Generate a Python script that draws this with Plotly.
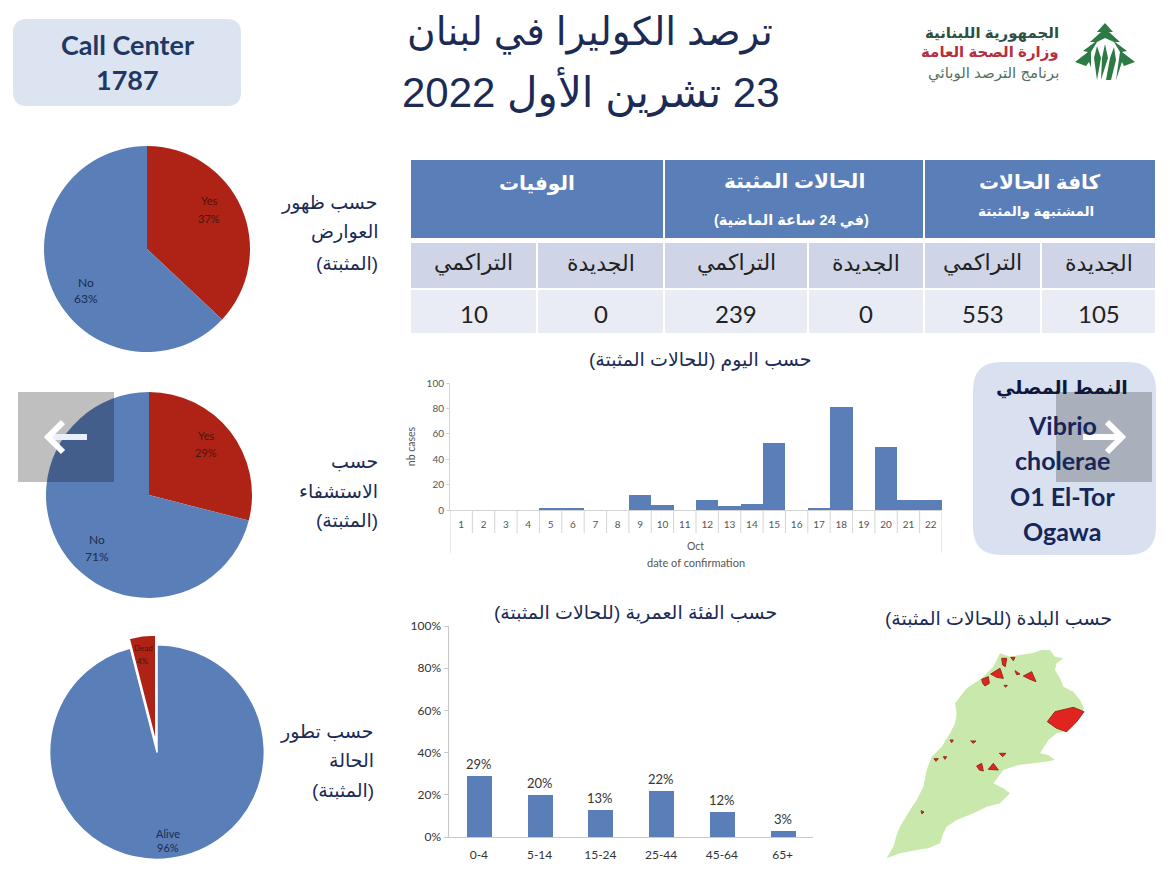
import plotly.graph_objects as go

W, H = 1170, 869

# ---- data ----
pie_symptoms_labels = ["Yes", "No"]
pie_symptoms_values = [37, 63]
pie_hospital_labels = ["Yes", "No"]
pie_hospital_values = [29, 71]
pie_outcome_labels = ["Alive", "Dead"]
pie_outcome_values = [96, 4]

days = list(range(1, 23))
daily_cases = [0, 0, 0, 0, 1, 1, 0, 0, 12, 4, 0, 8, 3, 5, 53, 0, 1, 81, 0, 50, 8, 8]

age_groups = ["0-4", "5-14", "15-24", "25-44", "45-64", "65+"]
age_shares = [29, 20, 13, 22, 12, 3]

table_groups = ["كافة الحالات", "الحالات المثبتة", "الوفيات"]
table_columns = ["الجديدة", "التراكمي", "الجديدة", "التراكمي", "الجديدة", "التراكمي"]
table_values = [105, 553, 0, 239, 0, 10]

BLUE = "#5a7eb8"
RED = "#ae2315"
NAVY = "#1c2b55"
AR = "Liberation Sans, DejaVu Sans, sans-serif"
LAT = "Lato, Open Sans, sans-serif"


def fx(x):
    return x / W


def fy(y):
    return 1 - y / H


def rtl(s):
    return "\u202b" + s + "\u202c"


shapes, annos = [], []


def text(x, y, s, size, color=NAVY, family=AR, anchor="center", bold=False, angle=0):
    t = f"<b>{s}</b>" if bold else s
    annos.append(dict(x=fx(x), y=fy(y), xref="paper", yref="paper", text=t, showarrow=False,
                      xanchor=anchor, yanchor="middle", textangle=angle,
                      font=dict(size=size, color=color, family=family)))


def rect(x0, y0, x1, y1, color):
    shapes.append(dict(type="rect", xref="paper", yref="paper", x0=fx(x0), x1=fx(x1),
                       y0=fy(y1), y1=fy(y0), fillcolor=color, line=dict(width=0), layer="below"))


def poly(pts, color, line=None, lw=0, layer="above", closed=True):
    d = "M " + " L ".join(f"{fx(x):.5f} {fy(y):.5f}" for x, y in pts) + (" Z" if closed else "")
    shapes.append(dict(type="path", xref="paper", yref="paper", path=d,
                       fillcolor=color if closed else None,
                       line=dict(width=lw, color=line or color), layer=layer))


def rounded(x0, y0, x1, y1, r, color):
    d = (f"M {fx(x0+r)} {fy(y0)} L {fx(x1-r)} {fy(y0)} Q {fx(x1)} {fy(y0)} {fx(x1)} {fy(y0+r)} "
         f"L {fx(x1)} {fy(y1-r)} Q {fx(x1)} {fy(y1)} {fx(x1-r)} {fy(y1)} "
         f"L {fx(x0+r)} {fy(y1)} Q {fx(x0)} {fy(y1)} {fx(x0)} {fy(y1-r)} "
         f"L {fx(x0)} {fy(y0+r)} Q {fx(x0)} {fy(y0)} {fx(x0+r)} {fy(y0)} Z")
    shapes.append(dict(type="path", xref="paper", yref="paper", path=d, fillcolor=color,
                       line=dict(width=0), layer="below"))


# ---- figure ----
fig = go.Figure()


def add_pie(labels, values, cx, cy, r, pull=None, line=None):
    fig.add_trace(go.Pie(labels=labels, values=values, sort=False, direction="clockwise", rotation=0,
                         domain=dict(x=[fx(cx - r), fx(cx + r)], y=[fy(cy + r), fy(cy - r)]),
                         marker=dict(colors=[RED if l in ("Yes", "Dead") else BLUE for l in labels],
                                     line=dict(width=line or 0, color="white")),
                         pull=pull or 0, textinfo="none", hoverinfo="label+percent", showlegend=False))


add_pie(pie_symptoms_labels, pie_symptoms_values, 147, 249, 103)
add_pie(pie_hospital_labels, pie_hospital_values, 149, 495, 103)
add_pie(pie_outcome_labels, pie_outcome_values, 157, 752, 117, pull=[0, 0.09], line=1.5)

fig.add_trace(go.Bar(x=days, y=daily_cases, marker=dict(color=BLUE, line=dict(width=0)), width=1.0,
                     xaxis="x", yaxis="y", showlegend=False))
fig.add_trace(go.Bar(x=age_groups, y=age_shares, marker=dict(color=BLUE, line=dict(width=0)), width=0.41,
                     xaxis="x2", yaxis="y2", showlegend=False))
for g, v in zip(age_groups, age_shares):
    annos.append(dict(x=g, y=v, xref="x2", yref="y2", text=f"{v}%", showarrow=False, yanchor="bottom", yshift=2,
                      font=dict(size=13, color="#333333", family=LAT)))

# ---- title ----
text(590, 33, "ترصد الكوليرا في لبنان", 39)
text(591, 91, rtl("23 تشرين الأول 2022"), 42)

# ---- call centre / serotype boxes ----
rounded(13, 19, 241, 106, 14, "#dde4f1")
text(127, 45, "Call Center", 27, "#1f3864", LAT, bold=True)
text(127, 80, "1787", 27, "#1f3864", LAT, bold=True)
rounded(973, 362, 1156, 555, 28, "#d9e1f0")
text(1062, 388, "النمط المصلي", 19, "#10183a", AR, bold=True)
for y, s in zip([425, 460, 496, 531], ["Vibrio", "cholerae", "O1 El-Tor", "Ogawa"]):
    text(1062, y, s, 25, "#16265a", LAT, bold=True)

# ---- table ----
group_spans = [(925, 1155), (665, 923), (411, 663)]
for (a, b) in group_spans:
    rect(a, 160, b, 238, BLUE)
col_spans = [(1042, 1155), (925, 1040), (809, 923), (665, 807), (538, 663), (411, 536)]
for (a, b), head, val in zip(col_spans, table_columns, table_values):
    rect(a, 243, b, 288, "#cfd5e6")
    rect(a, 290, b, 333, "#e9ecf5")
    text((a + b) / 2, 263, head, 22, "#222222")
    text((a + b) / 2, 313, str(val), 24, "#222222", LAT)
text(1040, 182, table_groups[0], 20, "white", bold=True)
text(1036, 211, "المشتبهة والمثبتة", 13.5, "white", bold=True)
text(794, 181, table_groups[1], 20, "white", bold=True)
text(791, 220, rtl("(في 24 ساعة الماضية)"), 14.5, "white", bold=True)
text(537, 183, table_groups[2], 20, "white", bold=True)

# ---- side captions ----
for y, s in zip([203, 232, 263], ["حسب ظهور", "العوارض", rtl("(المثبتة)")]):
    text(380, y, s, 19, anchor="right")
for y, s in zip([461, 491, 520], ["حسب", "الاستشفاء", rtl("(المثبتة)")]):
    text(380, y, s, 19, anchor="right")
for y, s in zip([732, 760, 790], ["حسب تطور", "الحالة", rtl("(المثبتة)")]):
    text(376, y, s, 19, anchor="right")

# ---- chart titles ----
text(700, 360, rtl("حسب اليوم (للحالات المثبتة)"), 19)
text(635, 613, rtl("حسب الفئة العمرية (للحالات المثبتة)"), 19)
text(998, 618, rtl("حسب البلدة (للحالات المثبتة)"), 19)

# ---- pie labels ----
DARKRED = "#4a1410"
DARKBLUE = "#1c2b4f"
for x, y, s, c, z in [
    (209, 201, "Yes", DARKRED, 11), (209, 218, "37%", DARKRED, 11),
    (86, 282, "No", DARKBLUE, 12), (86, 299, "63%", DARKBLUE, 12),
    (206, 435, "Yes", DARKRED, 11), (206, 452, "29%", DARKRED, 11),
    (97, 539, "No", DARKBLUE, 12), (97, 556, "71%", DARKBLUE, 12),
    (143, 648, "Dead", DARKRED, 8), (143, 661, "4%", DARKRED, 8),
    (168, 833, "Alive", DARKBLUE, 11), (168, 847, "96%", DARKBLUE, 11),
]:
    text(x, y, s, z, c, LAT)

# ---- daily chart furniture ----
for d in days + [days[-1] + 1]:
    long_tick = d in (days[0], days[-1] + 1)
    shapes.append(dict(type="line", xref="x", yref="paper", x0=d - 0.5, x1=d - 0.5,
                       y0=fy(553 if long_tick else 533), y1=fy(510),
                       line=dict(color="#d4d4d4", width=1), layer="below"))
text(695, 546, "Oct", 10.5, "#555555", LAT)
text(696, 562, "date of confirmation", 11, "#555555", LAT)

# ---- map ----
map_pts = [(420, 160), (450, 170), (480, 165), (515, 160), (545, 150), (570, 150), (585, 170), (610, 175),
           (590, 190), (585, 210), (600, 235), (610, 260), (640, 275), (660, 300), (672, 325), (650, 365),
           (620, 395), (590, 400), (565, 420), (540, 460), (565, 465), (585, 480), (555, 485), (520, 490),
           (475, 495), (430, 510), (415, 530), (400, 550), (430, 565), (450, 580), (420, 610), (380, 620),
           (340, 640), (290, 660), (260, 680), (250, 700), (240, 730), (205, 745), (170, 750), (120, 760),
           (80, 775), (100, 740), (110, 705), (120, 680), (150, 630), (170, 600), (190, 560), (200, 510),
           (215, 470), (245, 440), (270, 400), (285, 370), (290, 340), (285, 310), (320, 265), (365, 235),
           (400, 200)]
zoom_map = lambda pts: [(860 + x / 3, 600 + y / 3) for x, y in pts]
poly(zoom_map(map_pts), "#c9e8ab", layer="below")
for blob in [
    [(562, 365), (585, 335), (640, 322), (672, 335), (650, 365), (620, 395), (590, 385)],
    [(365, 238), (385, 230), (388, 250), (375, 258), (368, 250)],
    [(392, 222), (420, 205), (430, 235), (410, 232)],
    [(490, 228), (515, 215), (528, 245), (510, 238)],
    [(425, 175), (440, 175), (436, 200), (428, 195)],
    [(350, 498), (365, 490), (370, 513), (358, 510)],
    [(385, 508), (400, 490), (415, 510)],
    [(418, 460), (438, 460), (428, 470)],
    [(332, 423), (348, 423), (340, 430)],
    [(222, 476), (235, 476), (228, 484)],
    [(250, 470), (260, 470), (255, 478)],
    [(270, 420), (280, 420), (275, 428)],
    [(183, 632), (192, 636), (186, 642)],
    [(452, 172), (465, 172), (460, 182)],
    [(432, 256), (442, 256), (437, 262)],
    [(465, 212), (480, 222), (470, 224)],
]:
    poly(zoom_map(blob), "#e0241f", line="#9a2a20", lw=1, layer="below")

# ---- logo ----
text(1061, 33, "الجمهورية اللبنانية", 15, "#2f4f3f", anchor="right", bold=True)
text(1061, 52, "وزارة الصحة العامة", 15, "#b5303c", anchor="right", bold=True)
text(1061, 74, "برنامج الترصد الوبائي", 15, "#55705f", anchor="right")
poly([(1105, 23), (1113, 32), (1109, 32), (1120, 42), (1115, 42), (1127, 51), (1122, 52), (1135, 62),
      (1124, 66), (1122, 62), (1116, 80), (1096, 80), (1089, 62), (1086, 66), (1075, 62), (1088, 52),
      (1083, 51), (1095, 42), (1090, 42), (1101, 32), (1097, 32)],
     "#2e7a45", layer="below")
poly([(1091, 74), (1091, 52), (1097, 42), (1105, 38), (1114, 42), (1120, 52), (1116, 80), (1096, 80)],
     "white", layer="below")
poly([(1097, 80), (1094, 58), (1097, 46), (1101, 58)], "#2e7a45", layer="below")
poly([(1101, 80), (1102, 58), (1105, 44), (1108, 58)], "#2e7a45", layer="below")
poly([(1106, 80), (1110, 58), (1114, 47), (1116, 60), (1111, 80)], "#2e7a45", layer="below")

# ---- carousel arrows ----
rect_shape = dict(type="rect", xref="paper", yref="paper", line=dict(width=0), layer="above")
shapes.append({**rect_shape, "fillcolor": "rgba(0,0,0,0.25)", "x0": fx(18), "x1": fx(114), "y0": fy(482), "y1": fy(392)})
shapes.append({**rect_shape, "fillcolor": "rgba(0,0,0,0.22)", "x0": fx(1056), "x1": fx(1152), "y0": fy(482), "y1": fy(392)})
poly([(87, 437), (47, 437)], "white", "#e8f0fb", 6, closed=False)
poly([(63, 422), (48, 437), (63, 452)], "white", "white", 6, closed=False)
poly([(1083, 437), (1121, 437)], "white", "white", 6, closed=False)
poly([(1107, 422), (1122, 437), (1107, 452)], "white", "white", 6, closed=False)

fig.update_layout(
    width=W, height=H, margin=dict(l=0, r=0, t=0, b=0, autoexpand=False), paper_bgcolor="white",
    plot_bgcolor="rgba(0,0,0,0)", shapes=shapes, annotations=annos, showlegend=False, bargap=0,
    xaxis=dict(domain=[fx(450), fx(942)], range=[0.5, 22.5], tickvals=days, ticktext=[str(d) for d in days],
               showgrid=False, zeroline=False, showline=True, linecolor="#d4d4d4", ticks="", automargin=False,
               tickfont=dict(size=10, color="#555555", family=LAT), anchor="y", ticklabelstandoff=5),
    yaxis=dict(domain=[fy(510), fy(383)], range=[0, 100], dtick=20, showgrid=False, zeroline=False, showline=True,
               linecolor="#d4d4d4", ticks="outside", ticklen=3, tickcolor="#d4d4d4", automargin=False,
               tickfont=dict(size=10, color="#555555", family=LAT), anchor="x",
               title=dict(text="nb cases", font=dict(size=10.5, color="#555555", family=LAT), standoff=8)),
    xaxis2=dict(domain=[fx(448.5), fx(813)], range=[-0.5, 5.5], type="category", categoryorder="array",
                categoryarray=age_groups, showgrid=False, zeroline=False, showline=True, linecolor="#c8c8c8",
                automargin=False, ticks="", tickfont=dict(size=12, color="#333333", family=LAT), anchor="y2",
                ticklabelstandoff=7),
    yaxis2=dict(domain=[fy(837), fy(626)], range=[0, 100], dtick=20, ticksuffix="%", showgrid=False, zeroline=False,
                showline=True, linecolor="#c8c8c8", ticks="outside", ticklen=4, tickcolor="#c8c8c8",
                automargin=False, tickfont=dict(size=12, color="#333333", family=LAT), anchor="x2"),
)

fig.write_html("out.html", config=dict(displayModeBar=False),
               post_script="document.body.style.margin='0';")
